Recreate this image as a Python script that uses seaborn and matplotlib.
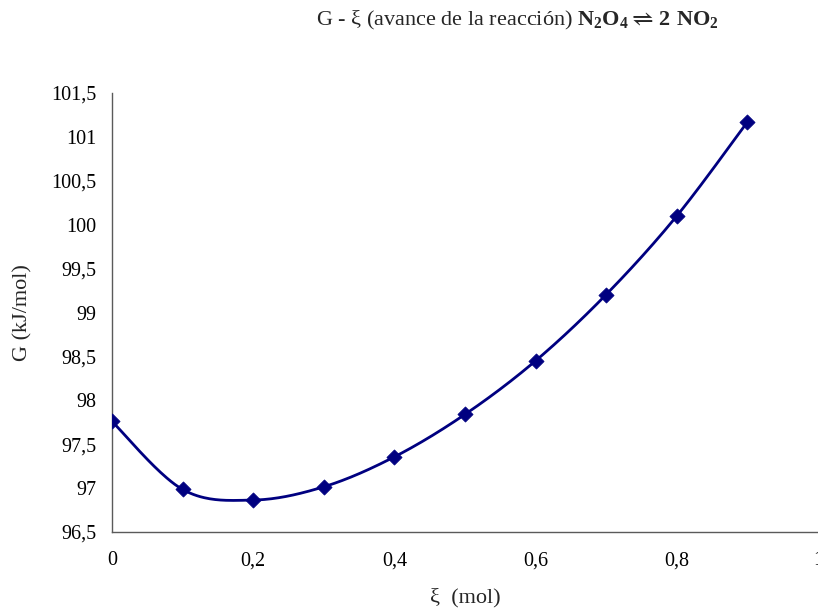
import numpy as np
import pandas as pd
import seaborn as sns
import matplotlib.pyplot as plt
from matplotlib.ticker import FuncFormatter

## Data
xi = [0.0, 0.1, 0.2, 0.3, 0.4, 0.5, 0.6, 0.7, 0.8, 0.9]
G = [97.76, 96.985, 96.864, 97.015, 97.356, 97.84, 98.45, 99.205, 100.10, 101.17]

df = pd.DataFrame({'xi': xi, 'G': G})

sns.set_theme(style='white')
plt.rcParams['font.family'] = ['Liberation Serif', 'DejaVu Serif']
plt.rcParams['mathtext.fontset'] = 'custom'
plt.rcParams['mathtext.rm'] = 'Liberation Serif'
plt.rcParams['mathtext.bf'] = 'Liberation Serif:bold'

navy = '#000080'
axis_col = '#5a5a5a'


## smoothed line like the spreadsheet one (cubic Bezier, Catmull-Rom tangents)
def smooth(xs, ys, n=40):
    p = np.column_stack([xs, ys])
    out = []
    for i in range(len(p) - 1):
        p0 = p[i - 1] if i > 0 else p[i]
        p1, p2 = p[i], p[i + 1]
        p3 = p[i + 2] if i + 2 < len(p) else p[i + 1]
        c1 = p1 + (p2 - p0) / 6
        c2 = p2 - (p3 - p1) / 6
        t = np.linspace(0, 1, n)[:, None]
        seg = ((1 - t) ** 3) * p1 + 3 * ((1 - t) ** 2) * t * c1 + 3 * (1 - t) * t ** 2 * c2 + t ** 3 * p2
        out.append(seg if i == 0 else seg[1:])
    s = np.vstack(out)
    return pd.DataFrame({'xi': s[:, 0], 'G': s[:, 1]})


curve = smooth(xi, G)

fig = plt.figure(figsize=(8.18, 6.12), dpi=100)
ax = fig.add_axes([0.1369, 0.1307, 0.8631, 0.7173])

sns.lineplot(data=curve, x='xi', y='G', sort=False, color=navy, linewidth=2.0, ax=ax)
sns.scatterplot(data=df, x='xi', y='G', marker='D', s=60, color=navy, edgecolor=navy, linewidth=0.5, ax=ax, zorder=3)

ax.set_xlim(0, 1)
ax.set_ylim(96.5, 101.5)
ax.set_xticks(np.arange(0, 1.01, 0.2))
ax.set_yticks(np.arange(96.5, 101.51, 0.5))

fmt = FuncFormatter(lambda v, pos: ('%g' % round(v, 2)).replace('.', ','))
ax.xaxis.set_major_formatter(fmt)
ax.yaxis.set_major_formatter(fmt)

for side in ['top', 'right']:
    ax.spines[side].set_visible(False)
for side in ['left', 'bottom']:
    ax.spines[side].set_color(axis_col)
    ax.spines[side].set_linewidth(1.0)

ax.tick_params(axis='both', which='major', direction='out', length=5, width=1,
               color=axis_col, labelsize=14.5, labelcolor='black')
ax.tick_params(axis='x', pad=9)
ax.tick_params(axis='y', pad=6)

ax.set_xlabel('ξ  (mol)', fontsize=16)
ax.set_ylabel('G (kJ/mol)', fontsize=16)
ax.xaxis.set_label_coords(0.5, -0.15)
ax.xaxis.label.set_va('center')
ax.yaxis.set_label_coords(-0.126, 0.5)
ax.yaxis.label.set_va('center')

fig.text(0.632, 0.967,
         r'G - ξ (avance de la reacción) $\mathbf{N_2O_4 \rightleftharpoons 2\ NO_2}$',
         ha='center', va='center', fontsize=16)

fig.savefig('out.png', dpi=100, facecolor='white')
